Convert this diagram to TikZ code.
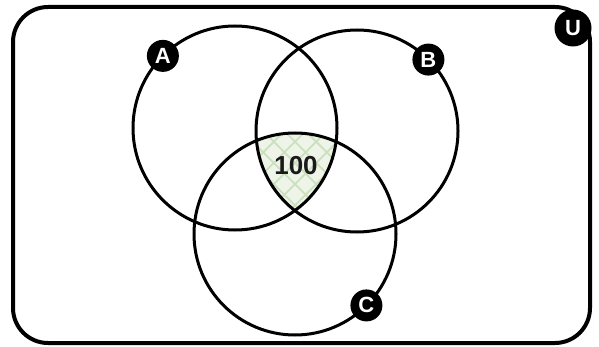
\documentclass[tikz,border=0pt]{standalone}
\usepackage{fontspec}
\setmainfont{Liberation Sans}
\definecolor{hatchbg}{HTML}{EEF5E8}
\definecolor{hatchline}{HTML}{CCE0C0}
\definecolor{numcol}{HTML}{1A1A1A}
\begin{document}
\begin{tikzpicture}[x=1pt,y=-1pt,
  setcircle/.style={circle, draw=black, line width=3pt, inner sep=0pt, outer sep=0pt, minimum size=#1},
  tag/.style={circle, fill=black, inner sep=0pt, minimum size=32pt, text=white,
              font=\bfseries\fontsize{22}{22}\selectfont},
  numtext/.style={text=numcol, font=\bfseries\fontsize{26}{26}\selectfont}]
\useasboundingbox (0,0) rectangle (599,347);
% universe
\node[draw=black, line width=4pt, rounded corners=35pt, inner sep=0pt,
      minimum width=577pt, minimum height=336pt] (U) at (301.5,175) {};
% shaded triple intersection
\begin{scope}
  \clip (235,128) circle[radius=102pt];
  \clip (357,131) circle[radius=101pt];
  \clip (295,234) circle[radius=101pt];
  \fill[hatchbg] (180,100) rectangle (420,300);
  \draw[hatchline, line width=1.8pt, rotate around={45:(295,170)}] (165,40) grid[step=15pt] (425,300);
\end{scope}
% sets
\node[setcircle=204pt] (A) at (235,128) {};
\node[setcircle=202pt] (B) at (357,131) {};
\node[setcircle=202pt] (C) at (295,234) {};
% labels
\node[tag] (la) at (A.135) {A};
\node[tag] (lb) at (B.45) {B};
\node[tag] (lc) at (C.-45) {C};
\node[tag, minimum size=37pt] (lu) at (573,28) {U};
\node[numtext] (n) at (296,166) {100};
\end{tikzpicture}
\end{document}
